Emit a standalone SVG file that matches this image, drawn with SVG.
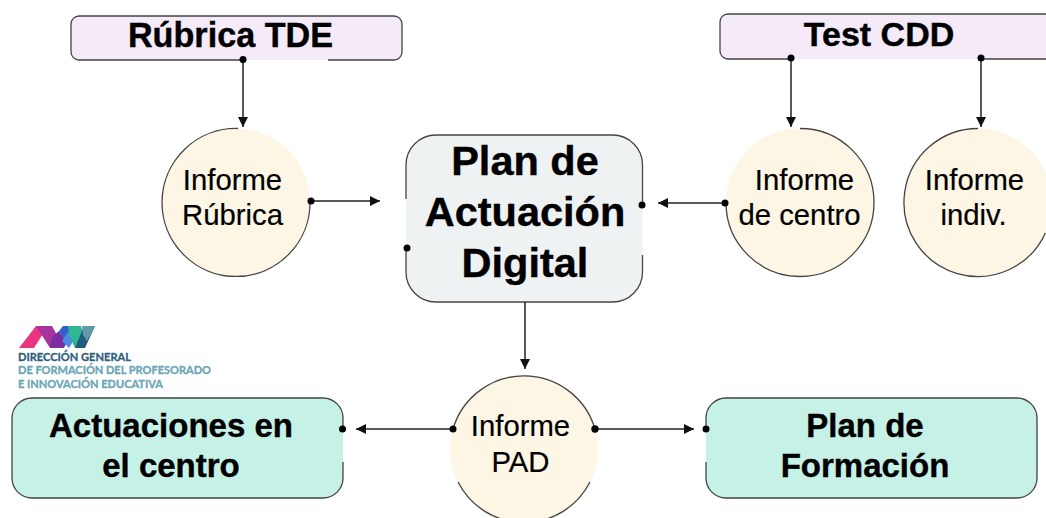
<svg xmlns="http://www.w3.org/2000/svg" width="1046" height="518" viewBox="0 0 1046 518">
<style>
.b{fill:none;stroke:#444;stroke-width:1.3}
.lilac{fill:#f4eaf8}.cream{fill:#fdf6e4}.grey{fill:#eff2f3}.teal{fill:#c6f1e6}
text{font-family:"Liberation Sans",Arial,sans-serif;fill:#000;text-anchor:middle}
.h{font-weight:bold;stroke:#000;stroke-width:.4}
.t{font-size:29.300px;stroke:#000;stroke-width:.2}
.lg{font-family:Lato,"Open Sans",sans-serif;font-weight:bold;font-size:11px;text-anchor:start}
.c{fill:none;stroke:#222;stroke-width:1.5}
.d{fill:#000}
</style>
<defs>
<marker id="arrow" markerUnits="userSpaceOnUse" markerWidth="12" markerHeight="12" refX="10" refY="6" orient="auto">
<path d="M0 1L10 6L0 11Z" fill="#111"/>
</marker>
</defs>
<rect width="1046" height="518" fill="#fff"/>

<g id="rubrica-tde">
<rect class="lilac" x="71" y="16" width="331" height="44" rx="8"/>
<path class="b" d="M328 60H394A8 8 0 0 0 402 52V24A8 8 0 0 0 394 16H79A8 8 0 0 0 71 24V52A8 8 0 0 0 79 60H243"/>
<text class="h" x="230.500" y="47" font-size="34.200">Rúbrica TDE</text>
</g>

<g id="test-cdd">
<rect class="lilac" x="720" y="14" width="340" height="45" rx="8"/>
<path class="b" d="M790 59H728A8 8 0 0 1 720 51V22A8 8 0 0 1 728 14H1050M981 59H1050"/>
<text class="h" x="879" y="46" font-size="34">Test CDD</text>
</g>

<g id="informe-rubrica">
<circle class="cream" cx="236" cy="202.500" r="74"/>
<path class="b" d="M310 201A74 74 0 1 1 238 128.500"/>
<text class="t" x="232.500" y="190">Informe</text>
<text class="t" x="232.500" y="225">Rúbrica</text>
</g>

<g id="plan-actuacion">
<rect class="grey" x="406" y="135" width="236.500" height="167" rx="30"/>
<path class="b" d="M406 199V165A30 30 0 0 1 436 135H612.500A30 30 0 0 1 642.500 165V205M642.500 255V272A30 30 0 0 1 612.500 302H436A30 30 0 0 1 406 272V248"/>
<text class="h" x="525" y="175" font-size="41.500">Plan de</text>
<text class="h" x="525" y="226" font-size="41.500">Actuación</text>
<text class="h" x="525" y="277" font-size="41.500">Digital</text>
</g>

<g id="informe-centro">
<circle class="cream" cx="800" cy="202.500" r="74"/>
<path class="b" d="M800 128.500A74 74 0 1 1 726 203"/>
<text class="t" x="804.500" y="190">Informe</text>
<text class="t" x="799.500" y="225">de centro</text>
</g>

<g id="informe-indiv">
<circle class="cream" cx="978" cy="202.500" r="74"/>
<path class="b" d="M978 128.500A74 74 0 1 0 1045.400 233"/>
<text class="t" x="974.500" y="190">Informe</text>
<text class="t" x="973.500" y="225">indiv.</text>
</g>

<g id="logo">
<polygon points="19,348 36,326 48,326 41,337 34,348" fill="#ea3480"/>
<polygon points="36,326 52,326 64,348 50,348" fill="#a8329e"/>
<polygon points="50,348 64,348 67,342 59,331 52,337" fill="#7b2ea2"/>
<polygon points="59,331 63,326 68,326 74,336 67,343" fill="#2f5fc8"/>
<polygon points="62,341 68,332 74,340 69,348" fill="#4f8ae8"/>
<polygon points="68,326 81,326 85,341 81,348 75,348 69,335" fill="#2fb692"/>
<polygon points="75,348 85,348 95,326 84,326" fill="#1f5d7c"/>
<polygon points="82,326 95,326 87,341 83,335" fill="#5f9aa6"/>
<text class="lg" x="18" y="361" style="fill:#2f5f7c;stroke:#2f5f7c;stroke-width:.3" textLength="113" lengthAdjust="spacingAndGlyphs">DIRECCIÓN GENERAL</text>
<text class="lg" x="18" y="374" style="fill:#6aa5b6;stroke:#6aa5b6;stroke-width:.3" textLength="193" lengthAdjust="spacingAndGlyphs">DE FORMACIÓN DEL PROFESORADO</text>
<text class="lg" x="18" y="388" style="fill:#6aa5b6;stroke:#6aa5b6;stroke-width:.3" textLength="145" lengthAdjust="spacingAndGlyphs">E INNOVACIÓN EDUCATIVA</text>
</g>

<g id="actuaciones-centro">
<rect class="teal" x="12" y="398" width="331" height="100" rx="20"/>
<path class="b" d="M343 429V418A20 20 0 0 0 323 398H32A20 20 0 0 0 12 418V478A20 20 0 0 0 32 498H323A20 20 0 0 0 343 478V462"/>
<text class="h" x="171" y="437" font-size="33">Actuaciones en</text>
<text class="h" x="171" y="477" font-size="33">el centro</text>
</g>

<g id="informe-pad">
<circle class="cream" cx="524" cy="449" r="74"/>
<path class="b" d="M453 429A74 74 0 0 1 595 429M458 482A74 74 0 0 0 590 482"/>
<text class="t" x="520.500" y="436">Informe</text>
<text class="t" x="520.500" y="472">PAD</text>
</g>

<g id="plan-formacion">
<rect class="teal" x="706" y="398" width="331" height="100" rx="20"/>
<path class="b" d="M706 429V418A20 20 0 0 1 726 398H1017A20 20 0 0 1 1037 418V478A20 20 0 0 1 1017 498H726A20 20 0 0 1 706 478V462"/>
<text class="h" x="865" y="437" font-size="33">Plan de</text>
<text class="h" x="865" y="477" font-size="33">Formación</text>
</g>

<g id="connectors">
<path class="c" marker-end="url(#arrow)" d="M243 60V127"/>
<path class="c" marker-end="url(#arrow)" d="M791 58V127"/>
<path class="c" marker-end="url(#arrow)" d="M981 58V127"/>
<path class="c" marker-end="url(#arrow)" d="M310 201H380"/>
<path class="c" marker-end="url(#arrow)" d="M725 203H658"/>
<path class="c" marker-end="url(#arrow)" d="M525 302V369"/>
<path class="c" marker-end="url(#arrow)" d="M453 429H356"/>
<path class="c" marker-end="url(#arrow)" d="M595 429H694"/>
<g class="d">
<circle cx="243" cy="59.500" r="3.500"/>
<circle cx="791" cy="58" r="3.500"/>
<circle cx="981" cy="58" r="3.500"/>
<circle cx="311" cy="201" r="3.500"/>
<circle cx="725" cy="203" r="3.500"/>
<circle cx="642" cy="205" r="3.500"/>
<circle cx="407" cy="248" r="3.500"/>
<circle cx="453" cy="429" r="3.500"/>
<circle cx="595" cy="429" r="3.700"/>
<circle cx="342.500" cy="429" r="3.500"/>
<circle cx="706" cy="429" r="3.500"/>
</g>
</g>
</svg>
